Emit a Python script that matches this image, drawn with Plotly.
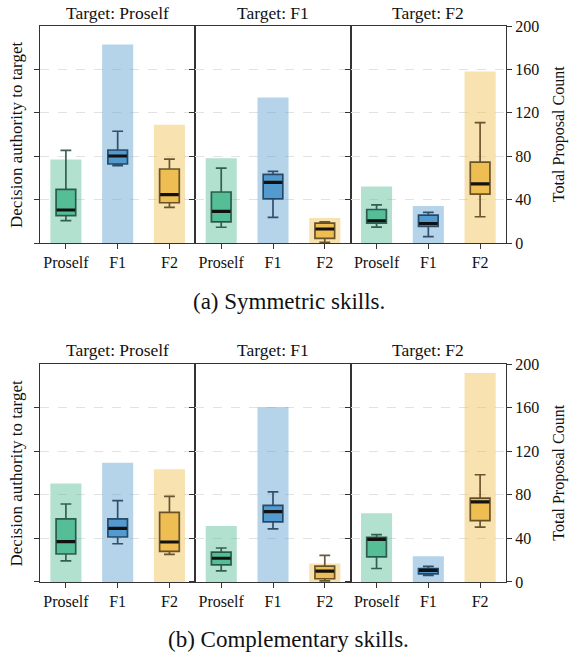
import plotly.graph_objects as go

# ---------------- data ----------------
groups = ["Proself", "F1", "F2"]
targets = ["Proself", "F1", "F2"]
captions = ["(a) Symmetric skills.", "(b) Complementary skills."]

# Total proposal counts (bars), per target panel, per group
sym_counts = [[77, 183, 109], [78, 134, 23], [52, 34, 158]]
comp_counts = [[90.5, 109.5, 103.5], [51.5, 160.5, 17], [63, 23.6, 191.7]]

# Decision authority box stats: (lower, q1, median, q3, upper)
sym_box = [
    [(20.6, 25.2, 30.4, 49.5, 85.4), (71.3, 72.8, 80.2, 85.7, 103), (32.9, 37.1, 44.5, 68.2, 77.4)],
    [(14.5, 19.4, 29.2, 47.0, 69.1), (23.7, 40.6, 55.9, 63.3, 66.1), (0.5, 4.3, 12.9, 18.4, 19.6)],
    [(14.7, 18.4, 20.5, 30.9, 35.2), (5.8, 15.3, 18.0, 25.7, 28.2), (24.2, 45.0, 54.5, 74.5, 111)],
]
comp_box = [
    [(19.3, 25.7, 37.0, 58.0, 71.6), (35.1, 41.3, 49.2, 58.0, 74.6), (25.3, 28.1, 36.7, 63.9, 78.5)],
    [(10.3, 15.7, 21.8, 27.5, 31.2), (48.7, 55.1, 64.5, 70.3, 82.7), (1.0, 3.0, 10.0, 14.5, 24.5)],
    [(12.4, 23.0, 39.1, 40.9, 43.4), (6.0, 7.5, 10.6, 12.4, 14.3), (50.3, 56.4, 73.6, 77.0, 98.4)],
]

yticks = [0, 40, 80, 120, 160, 200]

# ---------------- style ----------------
FONT = "Liberation Serif, Times New Roman, serif"
TXT = "#111111"
box_fill = ["rgba(80,188,148,0.95)", "rgba(78,152,204,0.95)", "rgba(238,188,78,0.95)"]
bar_fill = ["rgba(93,191,155,0.47)", "rgba(90,160,208,0.45)", "rgba(238,190,80,0.45)"]
box_line = ["rgba(28,70,60,0.85)", "rgba(25,55,85,0.85)", "rgba(80,60,25,0.85)"]
AX = "#333333"
BOXW = 0.38

fig = go.Figure()
layout = {}

row_dom = [[0.6097, 1.0], [0.0, 0.392]]
col_dom = [[0.0, 1 / 3], [1 / 3, 2 / 3], [2 / 3, 1.0]]
datasets = [(sym_counts, sym_box), (comp_counts, comp_box)]
title_shift = [13, 14]

annotations = []
for r in range(2):
    counts, boxes = datasets[r]
    for c in range(3):
        k = r * 3 + c + 1
        kb = k + 6
        xa = f"x{k}" if k > 1 else "x"
        ya = f"y{k}" if k > 1 else "y"
        yb = f"y{kb}"
        # bars on base axis
        fig.add_trace(go.Bar(
            x=list(range(3)), y=counts[c], width=0.6,
            marker=dict(color=bar_fill, line=dict(width=0)),
            xaxis=xa, yaxis=ya, showlegend=False, hoverinfo="y"))
        # boxes on overlaying axis
        for g in range(3):
            lo, q1, med, q3, hi = boxes[c][g]
            fig.add_trace(go.Box(
                x=[g], q1=[q1], median=[med], q3=[q3],
                lowerfence=[lo], upperfence=[hi], width=BOXW,
                whiskerwidth=0.55, boxpoints=False,
                fillcolor=box_fill[g], line=dict(color=box_line[g], width=1.7),
                xaxis=xa, yaxis=yb, showlegend=False))
            fig.add_trace(go.Scatter(
                x=[g - BOXW / 2 + 0.01, g + BOXW / 2 - 0.01], y=[med, med],
                mode="lines", line=dict(color="#111111", width=3.2),
                xaxis=xa, yaxis=yb, showlegend=False, hoverinfo="skip"))

        xkey = f"xaxis{k}" if k > 1 else "xaxis"
        ykey = f"yaxis{k}" if k > 1 else "yaxis"
        layout[xkey] = dict(
            domain=col_dom[c], anchor=ya, range=[-0.5, 2.5],
            tickvals=[0, 1, 2], ticktext=groups, ticks="outside", ticklen=5,
            tickcolor=AX, showline=True, linecolor=AX, linewidth=1.3, mirror=True,
            showgrid=False, zeroline=False,
            tickfont=dict(family=FONT, size=16, color=TXT))
        right = (c == 2)
        layout[ykey] = dict(
            domain=row_dom[r], anchor=xa, side="right", range=[0, 200],
            tickvals=yticks, showgrid=True, gridcolor="#e2e2e2", griddash="dash",
            gridwidth=1, zeroline=False, showline=True, linecolor=AX, linewidth=1.3,
            ticks="outside" if right else "", ticklen=5, tickcolor=AX,
            showticklabels=right,
            tickfont=dict(family=FONT, size=16, color=TXT))
        layout[f"yaxis{kb}"] = dict(
            overlaying=ya, anchor=xa, side="left", range=[0, 200],
            tickvals=[0, 40, 80, 120, 160], ticks="outside", ticklen=5, tickcolor=AX,
            showticklabels=False, showgrid=False, zeroline=False,
            showline=True, linecolor=AX, linewidth=1.3)

        annotations.append(dict(
            text=f"Target: {targets[c]}", xref="paper", yref="paper",
            x=(col_dom[c][0] + col_dom[c][1]) / 2, y=row_dom[r][1],
            xanchor="center", yanchor="middle", yshift=title_shift[r], showarrow=False,
            font=dict(family=FONT, size=17.5, color=TXT)))

    ymid = (row_dom[r][0] + row_dom[r][1]) / 2
    annotations.append(dict(
        text="Decision authority to target", xref="paper", yref="paper",
        x=-0.0505, y=ymid, xanchor="center", yanchor="middle", textangle=-90,
        showarrow=False, font=dict(family=FONT, size=17, color=TXT)))
    annotations.append(dict(
        text="Total Proposal Count", xref="paper", yref="paper",
        x=1.113, y=ymid, xanchor="center", yanchor="middle", textangle=-90,
        showarrow=False, font=dict(family=FONT, size=16, color=TXT)))

annotations.append(dict(text=captions[0], xref="paper", yref="paper", x=0.534, y=0.5036,
                        xanchor="center", yanchor="middle", showarrow=False,
                        font=dict(family=FONT, size=23, color=TXT)))
annotations.append(dict(text=captions[1], xref="paper", yref="paper", x=0.534, y=-0.103,
                        xanchor="center", yanchor="middle", showarrow=False,
                        font=dict(family=FONT, size=23, color=TXT)))

fig.update_layout(
    width=569, height=662,
    margin=dict(l=40, r=63, t=26, b=80, autoexpand=False),
    plot_bgcolor="white", paper_bgcolor="white",
    barmode="overlay", boxmode="overlay",
    annotations=annotations, showlegend=False,
    **layout)

fig.write_html("out.html", config={"displayModeBar": False},
               post_script="document.body.style.margin='0';document.body.style.overflow='hidden';")
